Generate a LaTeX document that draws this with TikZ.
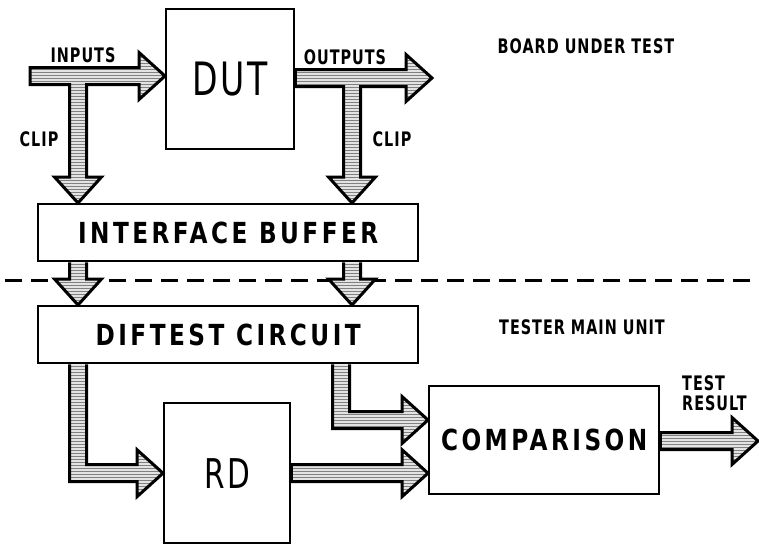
\documentclass[tikz,border=0pt]{standalone}
\usepackage{fontspec}
\setmainfont{DejaVu Sans}
\newfontfamily\bigblock{DejaVu Sans}[FakeStretch=0.8,LetterSpace=12]
\newfontfamily\smallblock{DejaVu Sans}[FakeStretch=0.72,LetterSpace=5]
\usetikzlibrary{calc,patterns,backgrounds}

\newcommand{\shaftw}{8.5pt}
\newcommand{\headw}{23.5pt}
\newcommand{\headl}{26pt}

% fat arrows: straight right, straight down, down-then-right
\newcommand{\harrow}[2]{%
  \draw[fatarrow] let \p1=(#1), \p2=(#2) in
    (\x1,\y2+\shaftw) -- (\x2-\headl,\y2+\shaftw) -- (\x2-\headl,\y2+\headw) -- (\x2,\y2)
    -- (\x2-\headl,\y2-\headw) -- (\x2-\headl,\y2-\shaftw) -- (\x1,\y2-\shaftw) -- cycle;}
\newcommand{\varrow}[2]{%
  \draw[fatarrow] let \p1=(#1), \p2=(#2) in
    (\x2-\shaftw,\y1) -- (\x2-\shaftw,\y2+\headl) -- (\x2-\headw,\y2+\headl) -- (\x2,\y2)
    -- (\x2+\headw,\y2+\headl) -- (\x2+\shaftw,\y2+\headl) -- (\x2+\shaftw,\y1);}
\newcommand{\larrow}[2]{%
  \draw[fatarrow] let \p1=(#1), \p2=(#2) in
    (\x1-\shaftw,\y1) -- (\x1-\shaftw,\y2-\shaftw) -- (\x2-\headl,\y2-\shaftw) -- (\x2-\headl,\y2-\headw)
    -- (\x2,\y2) -- (\x2-\headl,\y2+\headw) -- (\x2-\headl,\y2+\shaftw) -- (\x1+\shaftw,\y2+\shaftw)
    -- (\x1+\shaftw,\y1);}

\begin{document}
\begin{tikzpicture}[x=1pt, y=-1pt,
  blockbox/.style={draw, line width=2.4pt, inner sep=0pt, anchor=north west},
  bigtext/.style={font=\bigblock\bfseries\fontsize{29}{29}\selectfont},
  thintext/.style={font=\smallblock\fontsize{#1}{#1}\selectfont},
  tag/.style={font=\smallblock\bfseries\fontsize{20}{20}\selectfont, inner sep=0pt},
  fatarrow/.style={draw=black, line width=3pt, line join=miter,
                   preaction={fill=gray!22}, pattern=horizontal lines, pattern color=gray},
  divider/.style={line width=3pt, dash pattern=on 17pt off 9pt}
]
  \useasboundingbox (0,0) rectangle (759,544);

  \node[blockbox, thintext=46, minimum width=128pt, minimum height=140pt] (dut) at (165,8) {DUT};
  \node[blockbox, bigtext, minimum width=380pt, minimum height=57pt] (ib) at (37,203) {INTERFACE BUFFER};
  \node[blockbox, bigtext, minimum width=380pt, minimum height=57pt] (dc) at (37,305) {DIFTEST CIRCUIT};
  \node[blockbox, thintext=41, minimum width=126pt, minimum height=140pt] (rd) at (163,402) {RD};
  \node[blockbox, bigtext, minimum width=230pt, minimum height=108pt] (cmp) at (428,385) {COMPARISON};

  \node[tag] (inlbl)  at (83,55)  {INPUTS};
  \node[tag] (outlbl) at (345,57) {OUTPUTS};
  \node[tag] (clipl)  at (39,139) {CLIP};
  \node[tag] (clipr)  at (392,139) {CLIP};
  \node[tag] (board)  at (586,46) {BOARD UNDER TEST};
  \node[tag] (tester) at (582,327) {TESTER MAIN UNIT};
  \node[tag, anchor=west, align=left] (reslbl) at (682,393) {TEST\\RESULT};

  \coordinate (in)   at (30,76);
  \coordinate (out)  at (432,78);
  \coordinate (tapL) at (78,83);
  \coordinate (tapR) at (352,85);
  \coordinate (colR) at (341,420);
  \coordinate (res)  at (758,441);
  \coordinate (dashL) at (5,280);
  \coordinate (dashR) at (759,280);

  \begin{scope}[on background layer]
    \fill[white] (0,0) rectangle (759,544);
    \draw[divider] (dashL) -- (dashR);

    \harrow{in}{dut.west |- in}
    \harrow{dut.east |- out}{out}
    \varrow{tapL}{ib.north -| tapL}
    \varrow{tapR}{ib.north -| tapR}
    \varrow{ib.south -| tapL}{dc.north -| tapL}
    \varrow{ib.south -| tapR}{dc.north -| tapR}
    \larrow{dc.south -| tapL}{rd.west}
    \larrow{dc.south -| colR}{cmp.west |- colR}
    \harrow{rd.east}{cmp.west |- rd.east}
    \harrow{cmp.east |- res}{res}
  \end{scope}
\end{tikzpicture}
\end{document}
